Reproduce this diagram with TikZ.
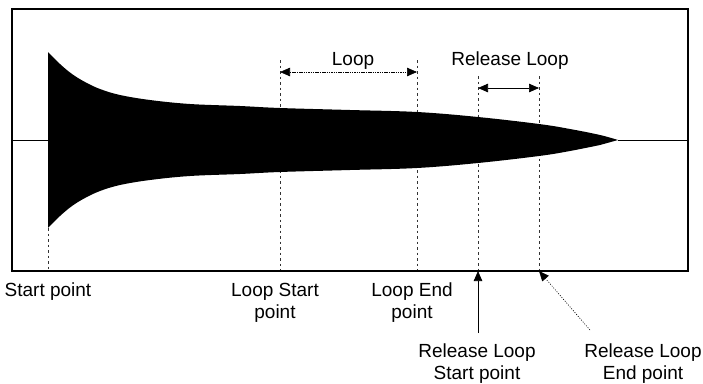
\documentclass[tikz,border=0pt]{standalone}
\usepackage{fontspec}
\setmainfont{Liberation Sans}
\usetikzlibrary{arrows.meta}
\begin{document}
\begin{tikzpicture}[x=1pt,y=-1pt,
  lbl/.style={font=\fontsize{19}{22}\selectfont, align=center, inner sep=0pt, anchor=base},
  guide/.style={line width=0.6pt, dash pattern=on 2.5pt off 3pt, black!80},
  tri/.style={-{Triangle[length=10pt,width=8.5pt]}},
  tritwo/.style={{Triangle[length=10pt,width=8.5pt]}-{Triangle[length=10pt,width=8.5pt]}}]
\useasboundingbox (0,0) rectangle (703,383);
% guide coordinates
\coordinate (sp) at (48,228);  \coordinate (spb) at (48,271);
\coordinate (ls) at (280,60);  \coordinate (lsb) at (280,271);
\coordinate (le) at (417,60);  \coordinate (leb) at (417,271);
\coordinate (rs) at (478,76);  \coordinate (rsb) at (478,271);
\coordinate (re) at (539,76);  \coordinate (reb) at (539,271);
\draw[guide] (sp) -- (spb);
\draw[guide] (ls) -- (lsb);
\draw[guide] (le) -- (leb);
\draw[guide] (rs) -- (rsb);
\draw[guide] (re) -- (reb);
% frame
\draw[line width=1.3pt] (12,9) rectangle (688,271);
% centre line
\draw[line width=0.7pt] (12,140) -- (48,140);
\draw[line width=0.7pt] (618,140) -- (688,140);
% envelope
\fill[black] plot[smooth, tension=0.6] coordinates {(48,52) (60,64) (72,74) (85,82) (100,89) (120,95) (150,100) (190,104) (240,106) (280,108) (350,110) (417,112) (478,117) (539,124) (570,129) (600,135) (618,140)}
  -- plot[smooth, tension=0.6] coordinates {(600,145) (570,151) (539,156) (478,163) (417,168) (350,170) (280,172) (240,174) (190,176) (150,180) (120,185) (100,191) (85,198) (72,206) (60,216) (48,228)} -- cycle;
% loop arrows
\coordinate (la) at (280,72); \coordinate (lb) at (417,72);
\draw[tritwo, line width=0.6pt, dash pattern=on 1.5pt off 0.8pt] (la) -- (lb);
\coordinate (ra) at (478,88); \coordinate (rb) at (539,88);
\draw[tritwo, line width=0.7pt] (ra) -- (rb);
\node[lbl] (loop) at (353,65) {Loop};
\node[lbl] (rloop) at (510,65) {Release Loop};
% bottom labels (base anchor = last line)
\node[lbl] (start) at (48,296) {Start point};
\node[lbl] (lstart) at (275,318) {Loop Start\\point};
\node[lbl] (lend) at (412,318) {Loop End\\point};
\node[lbl] (rstart) at (477,379) {Release Loop\\Start point};
\node[lbl] (rend) at (643,379) {Release Loop\\End point};
% pointers
\coordinate (rsfoot) at (478,333);
\coordinate (refoot) at (590,330);
\draw[tri, line width=0.7pt] (rsfoot) -- (rsb);
\draw[tri, line width=0.6pt, dash pattern=on 1pt off 1.5pt] (refoot) -- (reb);
\end{tikzpicture}
\end{document}
